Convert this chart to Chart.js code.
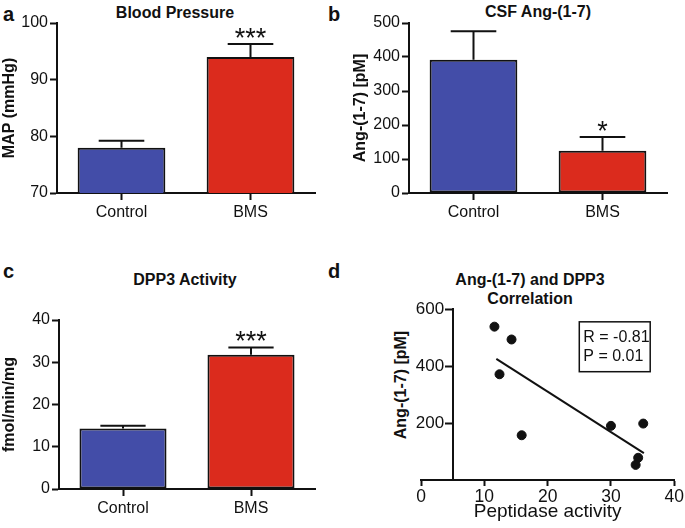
<!DOCTYPE html>
<html>
<head>
<meta charset="utf-8">
<script src="https://cdn.jsdelivr.net/npm/chart.js@4.4.1/dist/chart.umd.min.js"></script>
<style>
  body { margin: 0; background: #fff; font-family: "Liberation Sans", Arial, sans-serif; }
  #wrap { position: relative; width: 685px; height: 528px; overflow: hidden; }
  .panel { position: absolute; }
  .letter { position: absolute; font-weight: bold; font-size: 20px; line-height: 20px; color: #111; }
  .title { position: absolute; font-weight: bold; font-size: 16px; line-height: 19px; color: #111; text-align: center; white-space: nowrap; }
  .vlabel { position: absolute; font-weight: bold; font-size: 16px; line-height: 18px; color: #111; white-space: nowrap; transform: translate(-50%, -50%) rotate(-90deg); }
</style>
</head>
<body>
<div id="wrap">
  <div class="letter" style="left:3px;top:4px">a</div>
  <div class="letter" style="left:328px;top:4px">b</div>
  <div class="letter" style="left:3px;top:261px">c</div>
  <div class="letter" style="left:328px;top:261px">d</div>

  <div class="title" style="left:95px;width:160px;top:3px">Blood Pressure</div>
  <div class="title" style="left:458px;width:160px;top:2px">CSF Ang-(1-7)</div>
  <div class="title" style="left:105px;width:160px;top:270px">DPP3 Activity</div>
  <div class="title" style="left:430px;width:200px;top:270px">Ang-(1-7) and DPP3<br>Correlation</div>
  <div class="vlabel" style="left:401px;top:385px">Ang-(1-7) [pM]</div>

  <div class="panel" style="left:0;top:0;width:335px;height:230px"><canvas id="chartA"></canvas></div>
  <div class="panel" style="left:340px;top:0;width:345px;height:230px"><canvas id="chartB"></canvas></div>
  <div class="panel" style="left:0;top:260px;width:340px;height:268px"><canvas id="chartC"></canvas></div>
  <div class="panel" style="left:400px;top:260px;width:285px;height:268px"><canvas id="chartD"></canvas></div>
</div>

<script>
const groups = ['Control', 'BMS'];

// a: mean arterial pressure
const mapMean = [78.0, 94.0];
const mapSem = [1.2, 2.3];
const mapStars = ['', '***'];

// b: CSF Ang-(1-7)
const angMean = [392, 124];
const angSem = [84, 41];
const angStars = ['', '*'];

// c: DPP3 activity
const dppMean = [14.3, 31.8];
const dppSem = [0.7, 1.7];
const dppStars = ['', '***'];

// d: correlation
const peptidase = [11.6, 14.3, 12.4, 15.9, 30.0, 35.1, 34.3, 33.9];
const angLevels = [538, 493, 371, 157, 190, 198, 78, 53];
const fitX = [11.9, 35.2];
const fitY = [425, 94];
const statText = ['R = -0.81', 'P = 0.01'];

const BLUE = '#434da8';
const RED = '#db2b1d';
const INK = '#111';
const FONT = '"Liberation Sans", Arial, sans-serif';

Chart.defaults.font.family = FONT;
Chart.defaults.color = INK;
Chart.defaults.animation = false;

// error bars (mean + SEM, upward only) and significance stars
const errorBars = {
  id: 'errorBars',
  afterDatasetsDraw(chart, args, opts) {
    const ctx = chart.ctx;
    const y = chart.scales.y;
    const meta = chart.getDatasetMeta(0);
    const ds = chart.data.datasets[0];
    ctx.save();
    ctx.strokeStyle = INK;
    ctx.lineWidth = 2;
    meta.data.forEach((bar, i) => {
      const top = y.getPixelForValue(ds.data[i] + opts.sem[i]);
      const half = bar.width * 0.26;
      ctx.beginPath();
      ctx.moveTo(bar.x, bar.y);
      ctx.lineTo(bar.x, top);
      ctx.moveTo(bar.x - half, top);
      ctx.lineTo(bar.x + half, top);
      ctx.stroke();
      if (opts.stars[i]) {
        ctx.fillStyle = INK;
        ctx.font = '27px ' + FONT;
        ctx.textAlign = 'center';
        ctx.textBaseline = 'alphabetic';
        ctx.fillText(opts.stars[i], bar.x, top + 3);
      }
    });
    ctx.restore();
  }
};

function barChart(id, values, sem, stars, yMin, yMax, step, yTitle, yWidth, titlePad, pad) {
  return new Chart(document.getElementById(id), {
    type: 'bar',
    data: {
      labels: groups,
      datasets: [{
        data: values,
        backgroundColor: [BLUE, RED],
        borderColor: INK,
        borderWidth: 2,
        borderSkipped: false,
        barPercentage: 0.68,
        categoryPercentage: 1
      }]
    },
    options: {
      responsive: true,
      maintainAspectRatio: false,
      layout: { padding: pad },
      plugins: {
        legend: { display: false },
        tooltip: { enabled: false },
        errorBars: { sem: sem, stars: stars }
      },
      scales: {
        x: {
          grid: { display: true, offset: false, drawOnChartArea: false, tickLength: 7, tickWidth: 2, color: INK },
          border: { display: true, color: INK, width: 2 },
          ticks: { font: { size: 16 }, padding: 3, color: INK },
          afterFit: s => { s.height = 37; }
        },
        y: {
          min: yMin,
          max: yMax,
          ticks: { stepSize: step, font: { size: 16 }, padding: 2, color: INK },
          grid: { drawOnChartArea: false, tickLength: 7, tickWidth: 2, color: INK },
          border: { display: true, color: INK, width: 2 },
          title: { display: true, text: yTitle, font: { size: 16, weight: 'bold' }, color: INK, padding: { top: titlePad, bottom: 0 } },
          afterFit: s => { s.width = yWidth; }
        }
      }
    },
    plugins: [errorBars]
  });
}

barChart('chartA', mapMean, mapSem, mapStars, 70, 100, 10, 'MAP (mmHg)', 57, 0,
  { top: 23, right: 20, left: 0, bottom: 0 });
barChart('chartB', angMean, angSem, angStars, 0, 500, 100, 'Ang-(1-7) [pM]', 69, 11,
  { top: 23, right: 18, left: 0, bottom: 0 });
barChart('chartC', dppMean, dppSem, dppStars, 0, 40, 10, 'fmol/min/mg', 59, 0,
  { top: 60, right: 25, left: 0, bottom: 2 });

// stats box in panel d, anchored to data coordinates
const statBox = {
  id: 'statBox',
  afterDatasetsDraw(chart) {
    const { ctx, scales: { x, y } } = chart;
    const l = x.getPixelForValue(25), r = x.getPixelForValue(36.2);
    const t = y.getPixelForValue(555), b = y.getPixelForValue(380);
    ctx.save();
    ctx.strokeStyle = INK;
    ctx.lineWidth = 1.5;
    ctx.strokeRect(l, t, r - l, b - t);
    ctx.fillStyle = INK;
    ctx.font = '16px ' + FONT;
    ctx.textAlign = 'left';
    ctx.textBaseline = 'alphabetic';
    statText.forEach((s, i) => ctx.fillText(s, l + 4, t + 20 + i * 19));
    ctx.restore();
  }
};

new Chart(document.getElementById('chartD'), {
  type: 'scatter',
  data: {
    datasets: [
      {
        data: peptidase.map((v, i) => ({ x: v, y: angLevels[i] })),
        backgroundColor: INK,
        borderColor: INK,
        pointRadius: 4.5
      },
      {
        type: 'line',
        data: fitX.map((v, i) => ({ x: v, y: fitY[i] })),
        borderColor: INK,
        borderWidth: 2,
        pointRadius: 0,
        fill: false
      }
    ]
  },
  options: {
    responsive: true,
    maintainAspectRatio: false,
    layout: { padding: { top: 49, right: 9, left: 21, bottom: 0 } },
    plugins: { legend: { display: false }, tooltip: { enabled: false } },
    scales: {
      x: {
        type: 'linear',
        min: 0,
        max: 40,
        ticks: { stepSize: 10, font: { size: 17.5 }, padding: 1, color: INK },
        grid: { drawOnChartArea: false, tickLength: 6, tickWidth: 2, color: INK },
        border: { display: true, color: INK, width: 2 },
        title: { display: true, text: 'Peptidase activity', font: { size: 19 }, color: INK, padding: { top: 0, bottom: 5 } },
        afterFit: s => { s.height = 48; }
      },
      y: {
        // axis crosses the x axis at x = 5, as in the original figure
        position: { x: 5 },
        min: 0,
        max: 600,
        ticks: {
          stepSize: 200, font: { size: 17 }, color: INK,
          // labels are right-aligned on the axis line here; keep them clear of the tick marks
          callback: v => v + '\u2002'
        },
        afterBuildTicks: s => { s.ticks = s.ticks.filter(t => t.value !== 0); },
        grid: { drawOnChartArea: false, tickLength: 7, tickWidth: 2, color: INK },
        border: { display: true, color: INK, width: 2 }
      }
    }
  },
  plugins: [statBox]
});
</script>
</body>
</html>
